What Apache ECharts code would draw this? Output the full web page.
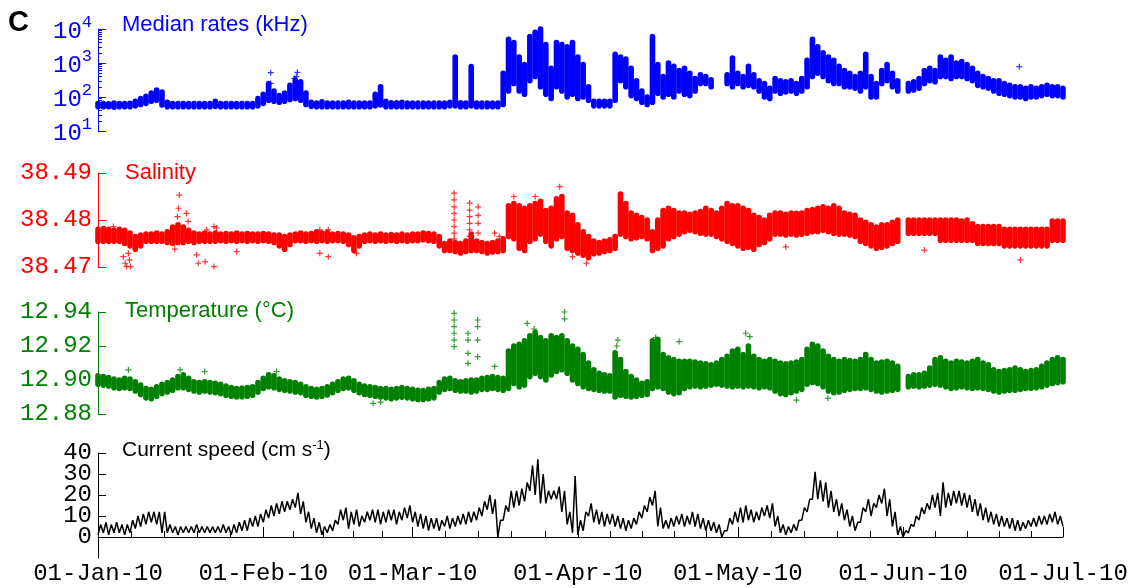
<!DOCTYPE html>
<html>
<head>
<meta charset="utf-8">
<script src="https://cdn.jsdelivr.net/npm/echarts@6/dist/echarts.min.js"></script>
<style>
  html, body { margin: 0; padding: 0; background: #fff; }
  #chart { width: 1134px; height: 588px; }
</style>
</head>
<body>
<div id="chart"></div>
<script>
// Time runs in days from 01-Jan-10 (day 0) to 01-Jul-10 (day 181).
// Each daily entry holds the lower and upper edge of that day's samples.
const monthStarts = [0, 31, 59, 90, 120, 151, 181];
const monthLabels = ['01-Jan-10', '01-Feb-10', '01-Mar-10', '01-Apr-10', '01-May-10', '01-Jun-10', '01-Jul-10'];

// Median optical rates (kHz)
const rateLow = [
  52,52,52,50,52,52,52,55,60,65,  75,80,58,52,52,52,52,52,52,52,
  52,52,53,52,52,52,52,52,52,52,  55,65,80,75,70,75,85,90,80,60,
  53,52,52,52,52,52,52,52,52,52,  52,52,55,58,52,52,52,52,52,52,
  52,52,52,52,52,52,55,55,52,52,  55,52,52,52,52,52,60,150,250,150,
  120,300,400,200,120,90,200,150,100,120,  90,100,80,55,55,55,55,80,300,200,
  110,90,70,60,70,130,100,120,100,150,  120,110,150,250,250,200,null,null,250,200,
  250,200,220,200,150,100,90,150,130,140,  150,130,150,200,400,500,400,300,250,250,
  200,200,180,150,200,100,100,250,300,200,  150,null,150,160,180,250,300,280,400,400,
  350,400,400,350,300,220,200,180,150,130,  120,110,100,100,90,100,100,110,120,110,
  110,100
];
const rateHigh = [
  64,64,63,66,64,64,65,75,90,105,  130,160,140,70,64,64,64,64,64,64,
  64,64,75,64,64,64,64,64,64,64,  90,120,250,150,110,130,220,320,280,130,
  70,66,72,66,66,66,66,70,66,66,  66,66,120,200,75,68,68,70,66,66,
  66,66,66,66,66,66,70,1500,68,66,  780,66,66,66,66,66,500,5000,4000,1500,
  900,6000,8000,10000,3500,700,4000,3500,3000,4000,  1500,900,200,75,75,75,75,1800,1500,1300,
  700,300,150,100,6000,900,400,1000,800,600,  700,500,350,450,400,320,null,null,450,1400,
  500,400,800,450,300,250,180,350,300,280,  300,250,350,1200,5000,3000,2000,1500,1200,800,
  600,500,400,500,1800,400,250,600,900,500,  300,null,250,280,350,600,700,600,1500,1200,
  1500,1000,1100,900,700,500,400,350,300,300,  250,220,200,200,180,200,180,200,220,200,
  200,180
];
const rateSpikes = [[32.4, 520], [32.4, 250], [36.8, 350], [37.2, 400], [37.4, 530], [172.8, 780]];

// Salinity
const salinityLow = [
  38.4755,38.4755,38.4755,38.4755,38.4755,38.4750,38.4745,38.4738,38.4745,38.4755,
  38.4755,38.4755,38.4755,38.4752,38.4750,38.4752,38.4752,38.4755,38.4752,38.4755,
  38.4755,38.4755,38.4755,38.4756,38.4755,38.4756,38.4755,38.4756,38.4755,38.4756,
  38.4755,38.4756,38.4755,38.4752,38.4745,38.4738,38.4748,38.4756,38.4756,38.4755,
  38.4756,38.4755,38.4756,38.4755,38.4756,38.4756,38.4755,38.4748,38.4735,38.4745,
  38.4755,38.4756,38.4755,38.4756,38.4755,38.4756,38.4755,38.4756,38.4755,38.4756,
  38.4756,38.4758,38.4756,38.4755,38.4745,38.4735,38.4735,38.4733,38.4730,38.4733,
  38.4735,38.4735,38.4733,38.4730,38.4732,38.4733,38.4735,38.4765,38.4760,38.4740,
  38.4735,38.4755,38.4760,38.4770,38.4755,38.4745,38.4760,38.4765,38.4740,38.4735,
  38.4730,38.4725,38.4720,38.4728,38.4730,38.4733,38.4735,38.4740,38.4770,38.4765,
  38.4760,38.4762,38.4765,38.4760,38.4735,38.4740,38.4745,38.4760,38.4765,38.4770,
  38.4775,38.4778,38.4775,38.4772,38.4770,38.4770,38.4765,38.4760,38.4755,38.4750,
  38.4745,38.4740,38.4742,38.4738,38.4748,38.4752,38.4760,38.4770,38.4770,38.4768,
  38.4770,38.4768,38.4770,38.4772,38.4775,38.4775,38.4778,38.4775,38.4772,38.4770,
  38.4770,38.4768,38.4765,38.4755,38.4750,38.4745,38.4740,38.4742,38.4745,38.4750,
  38.4755,null,38.4772,38.4772,38.4772,38.4772,38.4772,38.4772,38.4757,38.4757,
  38.4757,38.4757,38.4757,38.4757,38.4757,38.4750,38.4750,38.4750,38.4750,38.4750,
  38.4745,38.4745,38.4745,38.4745,38.4745,38.4745,38.4745,38.4745,38.4745,38.4757,
  38.4757,38.4757
];
const salinityHigh = [
  38.4780,38.4782,38.4780,38.4778,38.4780,38.4778,38.4772,38.4765,38.4768,38.4770,
  38.4770,38.4772,38.4770,38.4775,38.4785,38.4790,38.4785,38.4778,38.4772,38.4770,
  38.4772,38.4770,38.4772,38.4770,38.4771,38.4770,38.4772,38.4770,38.4771,38.4770,
  38.4770,38.4771,38.4770,38.4768,38.4768,38.4765,38.4768,38.4770,38.4772,38.4770,
  38.4771,38.4775,38.4772,38.4774,38.4770,38.4771,38.4770,38.4768,38.4762,38.4765,
  38.4768,38.4770,38.4768,38.4770,38.4768,38.4769,38.4768,38.4770,38.4768,38.4770,
  38.4770,38.4772,38.4771,38.4770,38.4765,38.4750,38.4755,38.4752,38.4750,38.4755,
  38.4770,38.4755,38.4752,38.4750,38.4752,38.4755,38.4760,38.4830,38.4835,38.4830,
  38.4825,38.4830,38.4835,38.4840,38.4820,38.4825,38.4845,38.4850,38.4815,38.4810,
  38.4790,38.4775,38.4765,38.4755,38.4752,38.4755,38.4758,38.4765,38.4855,38.4835,
  38.4815,38.4810,38.4805,38.4800,38.4775,38.4800,38.4820,38.4825,38.4820,38.4815,
  38.4815,38.4812,38.4815,38.4818,38.4825,38.4820,38.4815,38.4825,38.4835,38.4830,
  38.4830,38.4825,38.4820,38.4810,38.4805,38.4800,38.4810,38.4815,38.4815,38.4812,
  38.4815,38.4814,38.4815,38.4820,38.4822,38.4825,38.4828,38.4825,38.4830,38.4825,
  38.4815,38.4812,38.4810,38.4800,38.4795,38.4790,38.4785,38.4790,38.4790,38.4795,
  38.4800,null,38.4800,38.4800,38.4800,38.4800,38.4800,38.4800,38.4800,38.4800,
  38.4800,38.4800,38.4798,38.4800,38.4792,38.4786,38.4786,38.4786,38.4786,38.4786,
  38.4780,38.4780,38.4780,38.4780,38.4780,38.4780,38.4780,38.4780,38.4780,38.4798,
  38.4798,38.4798
];
const salinityScatter = [
  [2.9, 38.4786], [4.75, 38.4722], [5.1, 38.4708], [5.4, 38.4701], [5.7, 38.4729], [5.9, 38.4715], [6.1, 38.4701],
  [14.4, 38.4738], [14.9, 38.4807], [15.1, 38.4825], [15.25, 38.4853], [16.6, 38.4814], [16.9, 38.4797],
  [18.5, 38.4726], [18.8, 38.4708], [20.1, 38.4711], [20.4, 38.4779], [21.75, 38.4701], [21.75, 38.4786], [22.25, 38.4783],
  [26, 38.4733], [41.6, 38.4779], [41.6, 38.4729], [43.2, 38.4779], [43.2, 38.4722], [48.5, 38.4729],
  [66.8, 38.4857], [66.8, 38.4843], [66.8, 38.4828], [66.8, 38.4814], [66.8, 38.4800], [66.8, 38.4786], [66.8, 38.4772], [66.8, 38.4760],
  [69.7, 38.4836], [69.7, 38.4821], [69.7, 38.4807], [69.7, 38.4793], [69.7, 38.4779], [69.7, 38.4765],
  [71.3, 38.4828], [71.3, 38.4810], [71.3, 38.4793], [71.3, 38.4772], [71.6, 38.4687],
  [74.4, 38.4772], [75.3, 38.4765], [78, 38.4850], [82, 38.4850], [86.6, 38.4871], [89, 38.4722], [91.6, 38.4708],
  [129, 38.4743], [155, 38.4736], [173, 38.4715]
];

// Temperature (°C)
const temperatureLow = [
  12.8975,12.8970,12.8965,12.8955,12.8950,12.8955,12.8950,12.8935,12.8915,12.8895,
  12.8890,12.8905,12.8920,12.8930,12.8940,12.8955,12.8955,12.8945,12.8935,12.8930,
  12.8935,12.8930,12.8925,12.8920,12.8910,12.8905,12.8900,12.8902,12.8905,12.8910,
  12.8930,12.8950,12.8960,12.8955,12.8945,12.8940,12.8935,12.8930,12.8925,12.8910,
  12.8905,12.8900,12.8905,12.8912,12.8925,12.8940,12.8950,12.8955,12.8940,12.8925,
  12.8915,12.8910,12.8905,12.8900,12.8895,12.8890,12.8895,12.8898,12.8895,12.8890,
  12.8885,12.8885,12.8890,12.8895,12.8930,12.8945,12.8950,12.8940,12.8935,12.8935,
  12.8930,12.8935,12.8945,12.8945,12.8950,12.8945,12.8940,12.8950,12.8980,12.8960,
  12.8970,12.9020,12.9040,12.9020,12.9000,12.9030,12.9050,12.9060,12.9040,12.9000,
  12.8980,12.8960,12.8950,12.8945,12.8940,12.8935,12.8935,12.8900,12.8910,12.8905,
  12.8900,12.8905,12.8910,12.8915,12.8950,12.8960,12.8950,12.8930,12.8920,12.8925,
  12.8950,12.8960,12.8965,12.8960,12.8965,12.8970,12.8975,12.8970,12.8965,12.8960,
  12.8965,12.8960,12.8965,12.8960,12.8955,12.8960,12.8955,12.8935,12.8920,12.8915,
  12.8925,12.8935,12.8945,12.8975,12.8985,12.8980,12.8960,12.8935,12.8925,12.8930,
  12.8940,12.8945,12.8950,12.8950,12.8955,12.8945,12.8935,12.8930,12.8935,12.8940,
  12.8945,null,12.8960,12.8965,12.8960,12.8965,12.8970,12.8975,12.8970,12.8960,
  12.8950,12.8955,12.8960,12.8955,12.8950,12.8955,12.8950,12.8945,12.8935,12.8930,
  12.8935,12.8940,12.8940,12.8945,12.8950,12.8952,12.8955,12.8960,12.8970,12.8980,
  12.8985,12.8990
];
const temperatureHigh = [
  12.9025,12.9020,12.9015,12.9005,12.9000,12.9010,12.9005,12.8990,12.8970,12.8950,
  12.8945,12.8960,12.8975,12.8985,12.9000,12.9020,12.9030,12.9010,12.8990,12.8985,
  12.8990,12.8985,12.8980,12.8975,12.8965,12.8955,12.8950,12.8952,12.8955,12.8960,
  12.8985,12.9010,12.9030,12.9025,12.9005,12.8995,12.8990,12.8985,12.8975,12.8960,
  12.8950,12.8945,12.8950,12.8960,12.8975,12.8990,12.9005,12.9010,12.8995,12.8975,
  12.8965,12.8960,12.8955,12.8950,12.8950,12.8945,12.8950,12.8955,12.8950,12.8945,
  12.8940,12.8938,12.8945,12.8950,12.8985,12.9005,12.9010,12.8995,12.8990,12.8995,
  12.9000,12.9000,12.9010,12.9015,12.9020,12.9015,12.9010,12.9170,12.9200,12.9210,
  12.9230,12.9260,12.9280,12.9250,12.9230,12.9260,12.9250,12.9260,12.9230,12.9200,
  12.9180,12.9150,12.9100,12.9060,12.9040,12.9030,12.9025,12.9160,12.9120,12.9050,
  12.9020,12.9000,12.8980,12.8990,12.9230,12.9240,12.9150,12.9130,12.9120,12.9110,
  12.9110,12.9110,12.9105,12.9100,12.9095,12.9090,12.9100,12.9120,12.9140,12.9170,
  12.9180,12.9150,12.9200,12.9140,12.9120,12.9110,12.9120,12.9110,12.9100,12.9095,
  12.9100,12.9105,12.9120,12.9180,12.9210,12.9200,12.9170,12.9140,12.9120,12.9110,
  12.9120,12.9115,12.9110,12.9120,12.9150,12.9120,12.9100,12.9105,12.9110,12.9100,
  12.9080,null,12.9020,12.9030,12.9030,12.9040,12.9070,12.9120,12.9130,12.9110,
  12.9100,12.9110,12.9105,12.9100,12.9110,12.9120,12.9100,12.9090,12.9060,12.9050,
  12.9055,12.9060,12.9070,12.9060,12.9050,12.9055,12.9060,12.9080,12.9100,12.9120,
  12.9130,12.9120
];
const temperatureScatter = [
  [5.7, 12.9060], [15.4, 12.9060], [20, 12.9050], [33.5, 12.9050], [51.6, 12.8863], [53, 12.8870],
  [66.8, 12.9392], [66.8, 12.9353], [66.8, 12.9314], [66.8, 12.9275], [66.8, 12.9235], [66.8, 12.9196],
  [69.4, 12.9275], [69.4, 12.9235], [69.4, 12.9157], [69.4, 12.9098],
  [71.2, 12.9353], [71.2, 12.9314], [71.2, 12.9235], [71.2, 12.9137],
  [74.4, 12.9080], [80.5, 12.9333], [81.8, 12.9300], [87.5, 12.9400], [87.5, 12.9360],
  [97.3, 12.9200], [97.5, 12.9235], [104.6, 12.9250], [109, 12.9226], [121.5, 12.9275], [122.25, 12.9255],
  [131, 12.8882], [136.9, 12.8892]
];

// Current speed (cm/s)
const speedLow = [
  1,2,1,2,2,1,2,4,5,6,  7,6,2,2,2,1,2,2,2,2,
  2,2,2,2,2,1,2,3,3,5,  5,7,9,10,11,12,13,14,11,7,
  4,2,1,2,3,6,8,4,6,5,  7,8,7,6,7,8,6,8,9,7,
  5,4,3,4,3,5,4,5,6,6,  7,8,10,13,11,0,8,12,14,15,
  17,22,20,16,16,18,18,12,6,2,  1,3,10,7,6,5,6,5,4,3,
  4,6,9,12,15,5,4,4,5,6,  5,6,5,4,3,3,2,0,3,6,
  7,7,8,7,8,10,9,5,2,1,  2,3,8,12,18,18,17,14,12,10,
  8,5,3,7,12,10,14,16,10,5,  1,0,2,5,8,11,13,14,10,14,
  15,16,15,14,12,10,8,7,6,5,  5,4,3,3,4,5,5,6,6,7,
  6,5
];
const speedHigh = [
  6,7,6,7,6,6,8,10,11,12,  12,12,12,6,5,5,5,5,6,5,
  5,5,5,6,5,6,7,8,9,10,  11,13,15,16,17,17,18,21,17,12,
  9,7,5,6,8,13,14,12,13,10,  12,13,13,12,13,13,12,14,15,12,
  11,10,9,9,8,10,9,10,11,12,  12,14,17,20,18,8,15,22,22,23,
  26,34,37,30,22,22,24,22,12,29,  8,12,16,13,12,11,11,10,9,8,
  9,12,15,19,22,14,8,9,10,11,  10,12,11,9,8,7,6,3,9,12,
  14,15,13,12,14,15,16,10,6,5,  6,8,14,18,31,27,26,22,18,16,
  13,10,7,14,18,16,20,23,18,12,  5,3,6,10,14,16,20,21,26,21,
  22,22,21,20,18,16,14,12,11,10,  9,9,8,7,8,9,10,10,11,12,
  10,9
];

const salinityTicks = [38.47, 38.48, 38.49];
const temperatureTicks = [12.88, 12.90, 12.92, 12.94];
const speedTicks = [0, 10, 20, 30, 40];
const rateDecades = [10, 100, 1000, 10000];

const BLUE = '#0000ff', RED = '#ff0000', GREEN = '#008000', BLACK = '#000000';
const MONO = "'Courier New', 'Liberation Mono', monospace";
const SANS = "Arial, 'Liberation Sans', sans-serif";
const DAY_END = monthStarts[monthStarts.length - 1];

// log-axis minor tick values (2..9 within each decade)
const rateMinor = [];
rateDecades.slice(0, -1).forEach(d => { for (let k = 2; k <= 9; k++) rateMinor.push(d * k); });

// fifths of every month along the time axis
const dayMinor = [];
for (let i = 0; i < monthStarts.length - 1; i++) {
  const a = monthStarts[i], b = monthStarts[i + 1];
  for (let k = 1; k < 5; k++) dayMinor.push(a + (b - a) * k / 5);
}

// speed labels are tightly packed, so they are split over two stacked label rows
const speedLabelsA = speedTicks.filter((v, i) => i % 2 === 0);
const speedLabelsB = speedTicks.filter((v, i) => i % 2 === 1);

function bandData(lo, hi) {
  const out = [];
  lo.forEach((v, i) => { if (v != null && hi[i] != null) out.push([i, v, hi[i]]); });
  return out;
}
function zigzagData(lo, hi) {
  const out = [];
  lo.forEach((v, i) => {
    out.push([i, v]);
    if (i + 0.5 <= DAY_END) out.push([i + 0.5, hi[i]]);
  });
  return out;
}
// one vertical stroke per day, spanning that day's low..high
function bandSeries(name, data, xi, yi, color, width) {
  return {
    name, type: 'custom', xAxisIndex: xi, yAxisIndex: yi, data,
    encode: { x: 0, y: [1, 2] },
    renderItem(params, api) {
      const x = api.value(0);
      const a = api.coord([x, api.value(1)]);
      const b = api.coord([x, api.value(2)]);
      return {
        type: 'line',
        shape: { x1: a[0], y1: a[1], x2: b[0], y2: b[1] },
        style: { stroke: color, lineWidth: width, lineCap: 'round' }
      };
    }
  };
}
const PLUS = 'path://M2,0H3V2H5V3H3V5H2V3H0V2H2Z';
function pointSeries(name, data, xi, yi, color) {
  return { name, type: 'scatter', xAxisIndex: xi, yAxisIndex: yi, data,
    symbol: PLUS, symbolSize: 6, itemStyle: { color } };
}

function hiddenX(gi) {
  return { type: 'value', gridIndex: gi, min: 0, max: DAY_END, show: false };
}
function valueY(gi, color, min, max, ticks, labels, digits, withLine) {
  return {
    type: 'value', gridIndex: gi, min, max, position: 'left',
    splitLine: { show: false },
    axisLine: { show: withLine, lineStyle: { color, width: 1 } },
    axisTick: { show: withLine, inside: true, length: 8, customValues: ticks, lineStyle: { color, width: 1 } },
    axisLabel: { show: true, customValues: labels, margin: 6, color, fontFamily: MONO, fontSize: 24,
      lineHeight: 18, hideOverlap: false, showMinLabel: true, showMaxLabel: true,
      formatter: v => v.toFixed(digits) }
  };
}

const grids = [
  { left: 98, width: 965, top: 29, height: 102 },
  { left: 98, width: 965, top: 173, height: 94 },
  { left: 98, width: 965, top: 312, height: 102 },
  { left: 98, width: 965, top: 453, height: 105 }
];

const option = {
  animation: false,
  backgroundColor: '#ffffff',
  grid: grids,
  title: [
    { text: 'C', left: 8, top: 8, padding: 0,
      textStyle: { fontFamily: SANS, fontWeight: 'bold', fontSize: 29, lineHeight: 29, color: BLACK } },
    { text: 'Median rates (kHz)', left: 122, top: 14, padding: 0,
      textStyle: { fontFamily: SANS, fontWeight: 'normal', fontSize: 22, lineHeight: 22, color: BLUE } },
    { text: 'Salinity', left: 125, top: 162, padding: 0,
      textStyle: { fontFamily: SANS, fontWeight: 'normal', fontSize: 22, lineHeight: 22, color: RED } },
    { text: 'Temperature (°C)', left: 125, top: 300, padding: 0,
      textStyle: { fontFamily: SANS, fontWeight: 'normal', fontSize: 22, lineHeight: 22, color: GREEN } },
    { text: '{a|Current speed (cm s}{s|-1}{a|)}', left: 122, top: 439, padding: 0,
      textStyle: { fontWeight: 'normal', rich: {
        a: { fontFamily: SANS, fontWeight: 'normal', fontSize: 21, lineHeight: 22, color: BLACK, verticalAlign: 'bottom' },
        s: { fontFamily: SANS, fontWeight: 'normal', fontSize: 13, lineHeight: 13, color: BLACK, verticalAlign: 'top' }
      } } }
  ],
  xAxis: [
    hiddenX(0), hiddenX(1), hiddenX(2),
    {
      type: 'value', gridIndex: 3, min: 0, max: DAY_END, position: 'bottom',
      splitLine: { show: false },
      axisLine: { show: true, lineStyle: { color: BLACK, width: 1 } },
      axisTick: { show: true, inside: true, length: 10, customValues: monthStarts, lineStyle: { color: BLACK } },
      axisLabel: { show: true, customValues: monthStarts, margin: 4, color: BLACK, fontFamily: MONO, fontSize: 24,
        hideOverlap: false, showMinLabel: true, showMaxLabel: true,
        formatter: v => monthLabels[monthStarts.indexOf(Math.round(v))] }
    },
    {
      type: 'value', gridIndex: 3, min: 0, max: DAY_END, position: 'bottom',
      splitLine: { show: false },
      axisLine: { show: false },
      axisTick: { show: true, inside: true, length: 6, customValues: dayMinor, lineStyle: { color: BLACK } },
      axisLabel: { show: false }
    }
  ],
  yAxis: [
    {
      type: 'log', logBase: 10, gridIndex: 0, min: 10, max: 10000, position: 'left',
      splitLine: { show: false },
      axisLine: { show: true, lineStyle: { color: BLUE, width: 1 } },
      axisTick: { show: true, inside: true, length: 8, customValues: rateDecades, lineStyle: { color: BLUE } },
      axisLabel: {
        show: true, customValues: rateDecades, margin: 6, hideOverlap: false,
        formatter: v => '{m|10}{e|' + Math.round(Math.log10(v)) + '}',
        rich: {
          m: { fontFamily: MONO, fontSize: 24, lineHeight: 30, color: BLUE, verticalAlign: 'bottom' },
          e: { fontFamily: MONO, fontSize: 17, lineHeight: 17, color: BLUE, verticalAlign: 'top' }
        }
      }
    },
    {
      type: 'log', logBase: 10, gridIndex: 0, min: 10, max: 10000, position: 'left',
      splitLine: { show: false },
      axisLine: { show: false },
      axisTick: { show: true, inside: true, length: 4, customValues: rateMinor, lineStyle: { color: BLUE } },
      axisLabel: { show: false }
    },
    valueY(1, RED, 38.47, 38.49, salinityTicks, salinityTicks, 2, true),
    valueY(2, GREEN, 12.88, 12.94, temperatureTicks, temperatureTicks, 2, true),
    valueY(3, BLACK, -10, 40, speedTicks, speedLabelsA, 0, true),
    valueY(3, BLACK, -10, 40, speedTicks, speedLabelsB, 0, false)
  ],
  series: [
    bandSeries('rates', bandData(rateLow, rateHigh), 0, 0, BLUE, 5.6),
    pointSeries('rate spikes', rateSpikes, 0, 0, BLUE),
    bandSeries('salinity', bandData(salinityLow, salinityHigh), 1, 2, RED, 5.6),
    pointSeries('salinity points', salinityScatter, 1, 2, RED),
    bandSeries('temperature', bandData(temperatureLow, temperatureHigh), 2, 3, GREEN, 5.6),
    pointSeries('temperature points', temperatureScatter, 2, 3, GREEN),
    {
      name: 'current speed', type: 'line', xAxisIndex: 3, yAxisIndex: 4,
      data: zigzagData(speedLow, speedHigh),
      showSymbol: false, symbol: 'none',
      lineStyle: { color: BLACK, width: 1.5 }
    }
  ]
};

const chart = echarts.init(document.getElementById('chart'), null, { renderer: 'canvas' });
chart.setOption(option);
</script>
</body>
</html>
